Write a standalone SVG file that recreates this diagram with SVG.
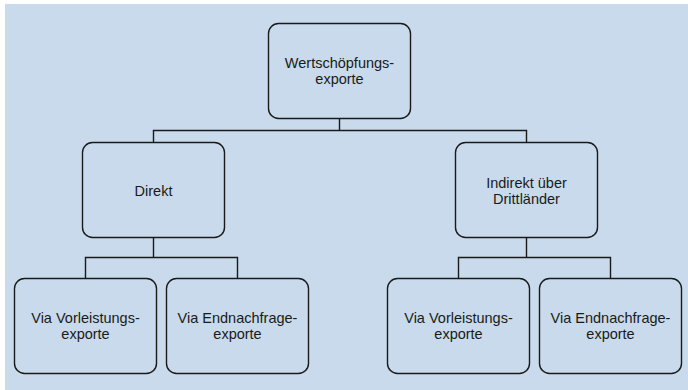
<svg xmlns="http://www.w3.org/2000/svg" width="688" height="390" viewBox="0 0 688 390">
<style>
.box{fill:#c8daeb;stroke:#1a1a1a;stroke-width:1.4}
.lbl{font-family:"Liberation Sans",Arial,sans-serif;font-size:14.5px;fill:#1a1a1a;text-anchor:middle}
.conn{fill:none;stroke:#1a1a1a;stroke-width:1.4}
</style>
<rect x="0" y="0" width="688" height="390" fill="#ffffff"/>
<rect x="5" y="4" width="683" height="386" fill="#c8daeb"/>
<g id="connectors">
<path class="conn" d="M339.5 118.5 V130.5 M153.5 142.5 V130.5 H526.5 V142.5"/>
<path class="conn" d="M153.5 237.5 V257.5 M85.5 278.5 V257.5 H237.5 V278.5"/>
<path class="conn" d="M526.5 237.5 V257.5 M458.5 278.5 V257.5 H610.5 V278.5"/>
</g>
<g id="node-wertschoepfung">
<rect class="box" x="268.5" y="23.5" width="142" height="95" rx="10"/>
<text class="lbl" x="339.5" y="68">Wertschöpfungs-</text>
<text class="lbl" x="339.5" y="84">exporte</text>
</g>
<g id="node-direkt">
<rect class="box" x="82.5" y="142.5" width="142" height="95" rx="10"/>
<text class="lbl" x="153.5" y="195.5">Direkt</text>
</g>
<g id="node-indirekt">
<rect class="box" x="455.5" y="142.5" width="142" height="95" rx="10"/>
<text class="lbl" x="526.5" y="187.5">Indirekt über</text>
<text class="lbl" x="526.5" y="203.5">Drittländer</text>
</g>
<g id="node-d-vorleistung">
<rect class="box" x="14.5" y="278.5" width="142" height="95" rx="10"/>
<text class="lbl" x="85.5" y="323">Via Vorleistungs-</text>
<text class="lbl" x="85.5" y="339">exporte</text>
</g>
<g id="node-d-endnachfrage">
<rect class="box" x="166.5" y="278.5" width="142" height="95" rx="10"/>
<text class="lbl" x="237.5" y="323">Via Endnachfrage-</text>
<text class="lbl" x="237.5" y="339">exporte</text>
</g>
<g id="node-i-vorleistung">
<rect class="box" x="387.5" y="278.5" width="142" height="95" rx="10"/>
<text class="lbl" x="458.5" y="323">Via Vorleistungs-</text>
<text class="lbl" x="458.5" y="339">exporte</text>
</g>
<g id="node-i-endnachfrage">
<rect class="box" x="539.5" y="278.5" width="142" height="95" rx="10"/>
<text class="lbl" x="610.5" y="323">Via Endnachfrage-</text>
<text class="lbl" x="610.5" y="339">exporte</text>
</g>
</svg>
